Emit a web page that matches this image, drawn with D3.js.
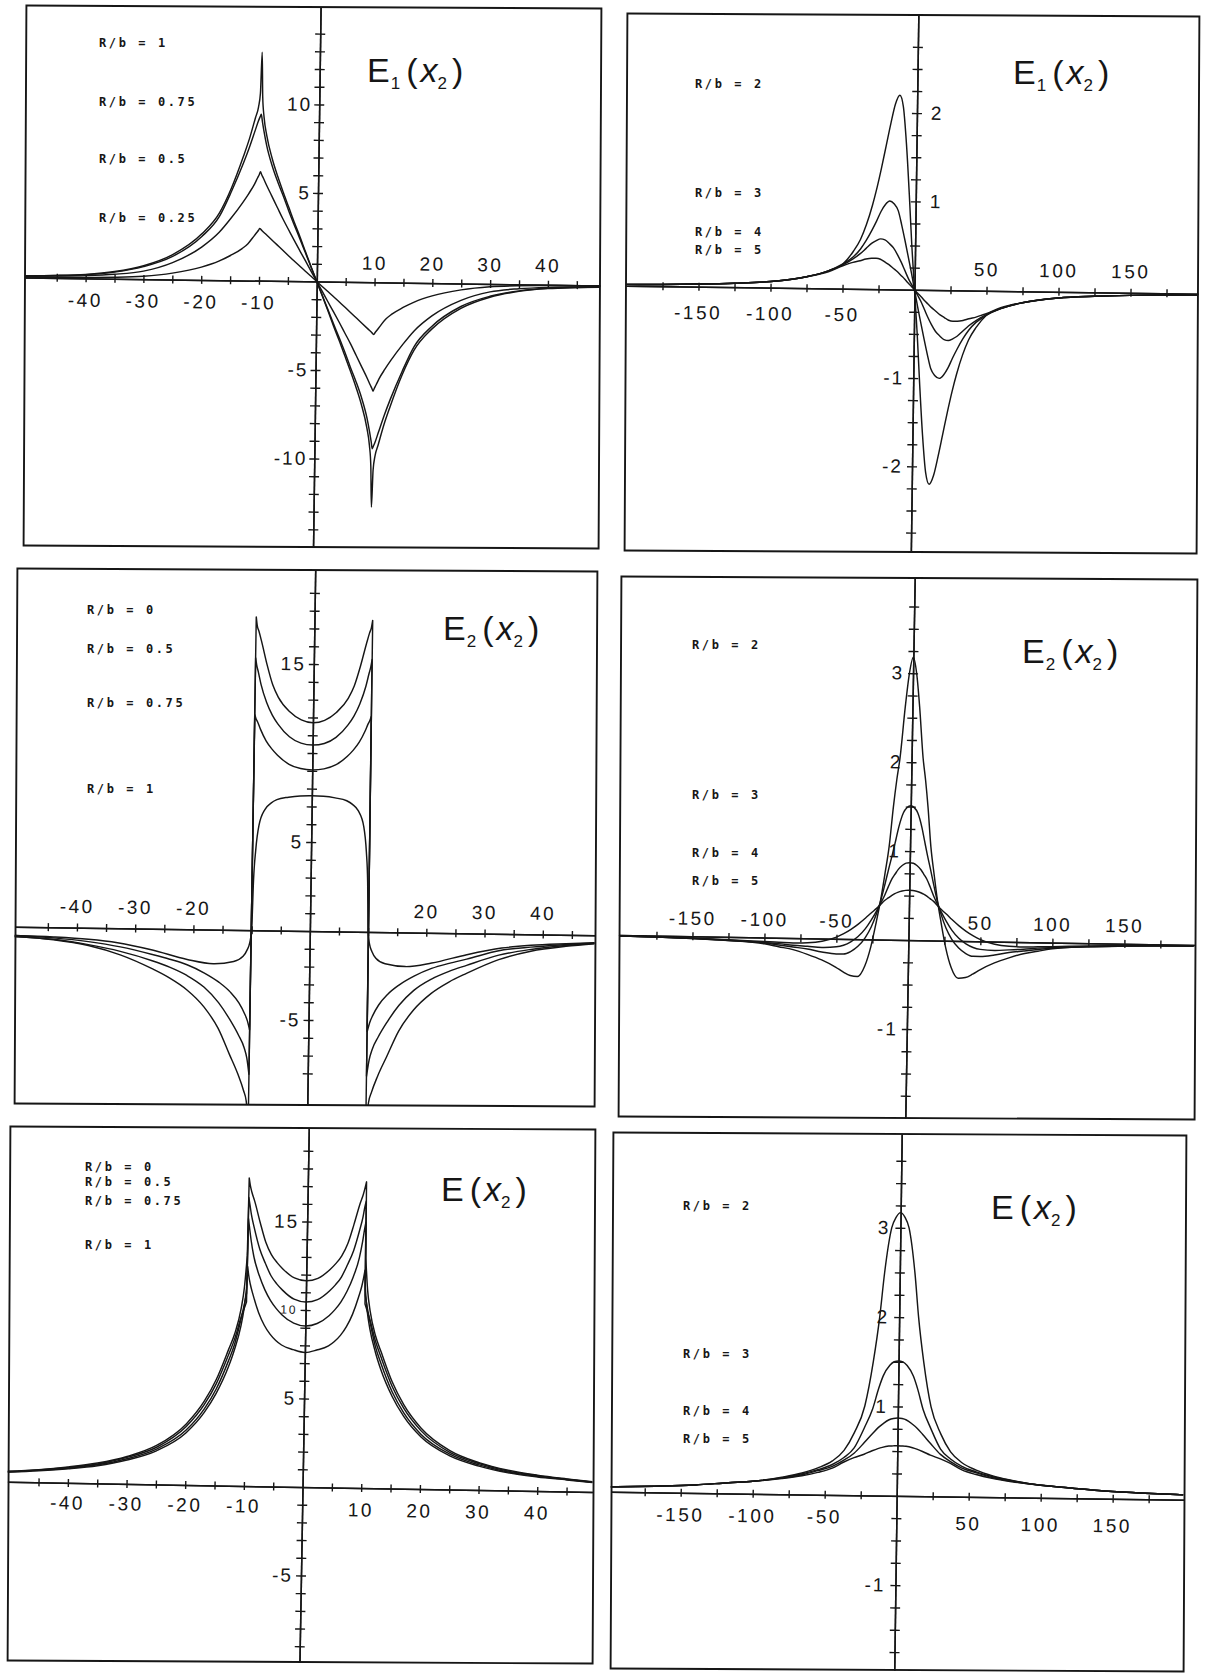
<!DOCTYPE html>
<html>
<head>
<meta charset="utf-8">
<script src="https://cdn.jsdelivr.net/npm/d3@7"></script>
<style>
  body { margin: 0; background: #fff; }
  svg { display: block; }
</style>
</head>
<body>
<svg id="chart" width="1209" height="1676"></svg>
<script>
// ---------------- E1(x2), R/b = 1, 0.75, 0.5, 0.25 ----------------
const e1SmallX = [-50.5,-45,-40,-35,-30,-25,-20,-17,-15,-13,-12,-11,-10.5,-10.2,-10,-9.8,-9.5,-9,-8,-7,-6,-5,-4,-3,-2,-1,0,
                  1,2,3,4,5,6,7,8,9,9.5,9.8,10,10.2,10.5,11,12,13,15,17,20,25,30,35,40,45,49];
const e1Small_1   = [0.1,0.14,0.22,0.4,0.75,1.4,2.6,3.8,5.2,7.0,8.0,9.2,9.8,10.6,12.9,10.4,9.2,8.2,6.9,5.9,5.0,4.15,3.3,2.5,1.65,0.82,0,
                     -0.82,-1.65,-2.5,-3.3,-4.15,-5.0,-5.9,-6.9,-8.2,-9.2,-10.4,-12.7,-10.6,-9.8,-9.2,-8.0,-7.0,-5.2,-3.8,-2.6,-1.4,-0.75,-0.4,-0.22,-0.14,-0.1];
const e1Small_075 = [0.09,0.13,0.2,0.37,0.7,1.3,2.45,3.6,5.0,6.6,7.5,8.5,9.0,9.25,9.4,9.0,8.45,7.65,6.5,5.6,4.8,3.95,3.15,2.38,1.58,0.79,0,
                     -0.79,-1.58,-2.38,-3.15,-3.95,-4.8,-5.6,-6.5,-7.65,-8.45,-9.0,-9.4,-9.25,-9.0,-8.5,-7.5,-6.6,-5.0,-3.6,-2.45,-1.3,-0.7,-0.37,-0.2,-0.13,-0.09];
const e1Small_05  = [0.07,0.1,0.15,0.25,0.45,0.95,1.85,2.7,3.5,4.4,4.9,5.45,5.8,6.0,6.15,6.0,5.8,5.45,4.8,4.15,3.5,2.9,2.3,1.72,1.15,0.57,0,
                     -0.57,-1.15,-1.72,-2.3,-2.9,-3.5,-4.15,-4.8,-5.45,-5.8,-6.0,-6.15,-6.0,-5.8,-5.45,-4.9,-4.4,-3.5,-2.7,-1.85,-0.95,-0.45,-0.25,-0.15,-0.1,-0.07];
const e1Small_025 = [0.02,0.03,0.05,0.08,0.16,0.36,0.72,1.07,1.4,1.8,2.08,2.5,2.72,2.85,2.95,2.9,2.8,2.65,2.35,2.05,1.75,1.45,1.15,0.86,0.57,0.29,0,
                     -0.29,-0.57,-0.86,-1.15,-1.45,-1.75,-2.05,-2.35,-2.65,-2.8,-2.9,-2.95,-2.85,-2.72,-2.5,-2.08,-1.8,-1.4,-1.07,-0.72,-0.36,-0.16,-0.08,-0.05,-0.03,-0.02];

// ---------------- E1(x2), R/b = 2, 3, 4, 5 ----------------
const e1LargeX = [-200,-175,-150,-125,-100,-75,-60,-50,-43,-38,-34,-30,-27,-24,-21,-18,-15,-12,-9.5,-7,-4.5,-2.3,0,
                  2.3,4.5,7,9.5,12,15,18,21,24,27,30,34,38,43,50,60,75,100,125,150,175,197];
const e1Large_2 = [0.015,0.02,0.03,0.045,0.07,0.13,0.2,0.28,0.42,0.56,0.73,0.95,1.15,1.38,1.63,1.88,2.1,2.2,2.07,1.65,1.07,0.5,0,
                   -0.5,-1.07,-1.65,-2.07,-2.2,-2.1,-1.88,-1.63,-1.38,-1.15,-0.95,-0.73,-0.56,-0.42,-0.28,-0.2,-0.13,-0.07,-0.045,-0.03,-0.02,-0.015];
const e1Large_3 = [0.015,0.02,0.03,0.045,0.07,0.13,0.2,0.28,0.36,0.45,0.55,0.67,0.77,0.88,0.96,1.0,0.97,0.89,0.73,0.55,0.36,0.19,0,
                   -0.19,-0.36,-0.55,-0.73,-0.89,-0.97,-1.0,-0.96,-0.88,-0.77,-0.67,-0.55,-0.45,-0.36,-0.28,-0.2,-0.13,-0.07,-0.045,-0.03,-0.02,-0.015];
const e1Large_4 = [0.015,0.02,0.03,0.045,0.07,0.13,0.2,0.27,0.34,0.4,0.46,0.52,0.55,0.57,0.56,0.52,0.47,0.39,0.31,0.22,0.13,0.065,0,
                   -0.065,-0.13,-0.22,-0.31,-0.39,-0.47,-0.52,-0.56,-0.57,-0.55,-0.52,-0.46,-0.4,-0.34,-0.27,-0.2,-0.13,-0.07,-0.045,-0.03,-0.02,-0.015];
const e1Large_5 = [0.015,0.02,0.03,0.045,0.07,0.13,0.19,0.26,0.3,0.32,0.34,0.35,0.35,0.34,0.31,0.28,0.24,0.2,0.16,0.12,0.075,0.04,0,
                   -0.04,-0.075,-0.12,-0.16,-0.2,-0.24,-0.28,-0.31,-0.34,-0.35,-0.35,-0.34,-0.32,-0.3,-0.26,-0.19,-0.13,-0.07,-0.045,-0.03,-0.02,-0.015];

// ---------------- E2(x2), R/b = 0, 0.5, 0.75, 1 ----------------
const e2OutLX = [-50.7,-44,-38,-32.5,-27,-24,-21,-18,-15.5,-13.5,-12,-11,-10.5,-10.1];
const e2OutL_0   = [-0.55,-0.7,-1.0,-1.5,-2.25,-2.75,-3.4,-4.35,-5.55,-7.0,-8.1,-9.0,-9.6,-11];
const e2OutL_05  = [-0.55,-0.68,-0.95,-1.3,-1.8,-2.15,-2.6,-3.25,-4.1,-5.05,-5.9,-6.6,-7.2,-8.1];
const e2OutL_075 = [-0.5,-0.6,-0.78,-1.05,-1.45,-1.7,-2.0,-2.45,-2.95,-3.5,-4.1,-4.7,-5.1,-5.6];
const e2InX = [-10,-9.8,-9.5,-9,-8,-7,-6,-4,-2,0,2,4,6,7,8,9,9.5,9.8,10];
const e2In_0   = [17.6,17.1,16.8,16.2,14.9,13.8,13.1,12.3,11.85,11.7,11.85,12.3,13.1,13.8,14.9,16.2,16.8,17.1,17.5];
const e2In_05  = [15.3,14.9,14.5,13.8,12.8,12.1,11.6,10.9,10.55,10.45,10.55,10.9,11.6,12.1,12.8,13.8,14.5,14.9,15.3];
const e2In_075 = [12.1,11.9,11.7,11.3,10.65,10.2,9.85,9.35,9.12,9.05,9.12,9.35,9.85,10.2,10.65,11.3,11.7,11.9,12.1];
const e2OutRX = [10.1,10.5,11,12,13.5,15.5,18,21,24,27,32.5,38,44,49];
const e2OutR_0   = [-11,-9.6,-9.0,-8.1,-7.0,-5.55,-4.35,-3.4,-2.75,-2.25,-1.45,-0.95,-0.65,-0.48];
const e2OutR_05  = [-8.1,-7.2,-6.6,-5.9,-5.05,-4.1,-3.25,-2.6,-2.15,-1.8,-1.2,-0.85,-0.6,-0.45];
const e2OutR_075 = [-5.6,-5.1,-4.7,-4.1,-3.5,-2.95,-2.45,-2.0,-1.7,-1.45,-0.95,-0.72,-0.55,-0.43];
const e2R1X = [-50.7,-44,-38,-33,-27,-21,-16.5,-13,-11.4,-10.7,-10.3,-10,-9.8,-9.5,-9,-8,-7,-6,-4,-2,0,
               2,4,6,7,8,9,9.5,9.8,10,10.3,10.7,11.4,13,16.5,21,27,33,38,44,49];
const e2R1 = [-0.5,-0.55,-0.65,-0.82,-1.2,-1.7,-1.92,-1.78,-1.48,-1.1,-0.72,0,2.8,4.5,5.9,6.8,7.15,7.35,7.5,7.58,7.6,
              7.58,7.5,7.35,7.15,6.8,5.9,4.5,2.8,0,-0.72,-1.1,-1.48,-1.78,-1.92,-1.7,-1.2,-0.8,-0.62,-0.5,-0.42];

// ---------------- E2(x2), R/b = 2, 3, 4, 5 ----------------
const e2LargeX = [-201,-175,-150,-125,-100,-90,-80,-70,-60,-50,-45,-40,-35,-30,-26,-22.5,-20,-17,-14.5,-12,-10,-8,-5,-2.5,0,
                  2.5,5,8,10,12,14.5,17,20,22.5,26,30,35,40,45,50,60,70,80,90,100,125,150,175,198];
const e2Large_2 = [-0.01,-0.015,-0.025,-0.04,-0.07,-0.1,-0.13,-0.18,-0.24,-0.32,-0.37,-0.41,-0.42,-0.3,-0.08,0.2,0.42,0.75,1.05,1.5,1.8,2.05,2.62,3.0,3.18,
                   3.0,2.62,2.05,1.8,1.5,1.05,0.75,0.42,0.2,-0.08,-0.3,-0.42,-0.41,-0.37,-0.32,-0.24,-0.18,-0.13,-0.1,-0.07,-0.04,-0.025,-0.015,-0.01];
const e2Large_3 = [-0.01,-0.015,-0.025,-0.04,-0.06,-0.08,-0.1,-0.12,-0.15,-0.17,-0.17,-0.14,-0.08,0.02,0.14,0.29,0.42,0.62,0.8,0.97,1.12,1.27,1.43,1.49,1.51,
                   1.49,1.43,1.27,1.12,0.97,0.8,0.62,0.42,0.29,0.14,0.02,-0.08,-0.14,-0.17,-0.17,-0.15,-0.12,-0.1,-0.08,-0.06,-0.04,-0.025,-0.015,-0.01];
const e2Large_4 = [-0.01,-0.014,-0.022,-0.035,-0.055,-0.065,-0.08,-0.09,-0.1,-0.09,-0.07,-0.03,0.03,0.12,0.22,0.32,0.4,0.5,0.6,0.69,0.74,0.79,0.84,0.865,0.87,
                   0.865,0.84,0.79,0.74,0.69,0.6,0.5,0.4,0.32,0.22,0.12,0.03,-0.03,-0.07,-0.09,-0.1,-0.09,-0.08,-0.065,-0.055,-0.035,-0.022,-0.014,-0.01];
const e2Large_5 = [-0.01,-0.013,-0.02,-0.03,-0.045,-0.05,-0.055,-0.05,-0.03,0.02,0.06,0.11,0.17,0.24,0.3,0.35,0.39,0.44,0.47,0.5,0.52,0.535,0.55,0.558,0.56,
                   0.558,0.55,0.535,0.52,0.5,0.47,0.44,0.39,0.35,0.3,0.24,0.17,0.11,0.06,0.02,-0.03,-0.05,-0.055,-0.05,-0.045,-0.03,-0.02,-0.013,-0.01];

// ---------------- E(x2), R/b = 0, 0.5, 0.75, 1 ----------------
const eOutLX = [-50.3,-45,-40,-35,-30,-25,-20,-17,-15,-13,-12,-11,-10.5,-10.1];
const eOutL_0   = [0.6,0.72,0.9,1.15,1.55,2.2,3.45,4.75,6.0,7.7,8.6,10.0,11.2,13.0];
const eOutL_05  = [0.58,0.7,0.87,1.1,1.5,2.1,3.3,4.55,5.75,7.4,8.3,9.5,10.0,10.4];
const eOutL_075 = [0.56,0.68,0.83,1.05,1.42,2.0,3.1,4.3,5.45,7.05,8.0,9.4,10.2,10.9];
const eOutL_1   = [0.55,0.66,0.8,1.0,1.35,1.9,2.95,4.1,5.2,6.7,7.7,9.0,10.0,11.3];
const eInX = [-10,-9.8,-9.5,-9,-8,-7,-6,-5,-4,-2,0,2,4,5,6,7,8,9,9.5,9.8,10];
const eIn_0   = [17.4,17.0,16.6,16.1,14.9,13.8,13.1,12.65,12.3,11.8,11.65,11.8,12.3,12.65,13.1,13.8,14.9,16.1,16.6,17.0,17.3];
const eIn_05  = [16.3,15.9,15.3,14.6,13.4,12.6,11.9,11.45,11.1,10.6,10.45,10.6,11.1,11.45,11.9,12.6,13.4,14.6,15.3,15.9,16.2];
const eIn_075 = [15.1,14.6,13.9,13.0,11.9,11.1,10.5,10.05,9.7,9.25,9.1,9.25,9.7,10.05,10.5,11.1,11.9,13.0,13.9,14.6,15.0];
const eIn_1   = [12.4,11.9,11.4,10.8,9.8,9.1,8.6,8.25,8.0,7.75,7.6,7.75,8.0,8.25,8.6,9.1,9.8,10.8,11.4,11.9,12.3];
const eOutRX = [10.1,10.5,11,12,13,15,17,20,25,30,35,40,45,49.4];
const eOutR_0   = [13.0,11.2,10.0,8.6,7.7,6.0,4.75,3.45,2.2,1.55,1.15,0.9,0.72,0.58];
const eOutR_05  = [10.4,10.0,9.5,8.3,7.4,5.75,4.55,3.3,2.1,1.5,1.1,0.87,0.7,0.56];
const eOutR_075 = [10.9,10.2,9.4,8.0,7.05,5.45,4.3,3.1,2.0,1.42,1.05,0.83,0.68,0.55];
const eOutR_1   = [11.3,10.0,9.0,7.7,6.7,5.2,4.1,2.95,1.9,1.35,1.0,0.8,0.66,0.53];

// ---------------- E(x2), R/b = 2, 3, 4, 5 ----------------
const eLargeX = [-199,-168,-140,-117,-100,-80,-66,-55,-45,-37,-30,-23,-17.5,-13.5,-10.5,-6,-3,0,
                 3,6,10.5,13.5,17.5,23,30,37,45,55,66,80,100,117,140,168,199];
const eLarge_2 = [0.055,0.07,0.09,0.12,0.14,0.19,0.24,0.3,0.38,0.5,0.7,1.0,1.5,2.0,2.5,3.0,3.12,3.17,
                  3.12,3.0,2.5,2.0,1.5,1.0,0.7,0.5,0.38,0.3,0.24,0.19,0.14,0.12,0.09,0.07,0.055];
const eLarge_3 = [0.055,0.07,0.09,0.12,0.14,0.185,0.23,0.28,0.34,0.42,0.53,0.76,0.97,1.2,1.34,1.46,1.5,1.51,
                  1.5,1.46,1.34,1.2,0.97,0.76,0.53,0.42,0.34,0.28,0.23,0.185,0.14,0.12,0.09,0.07,0.055];
const eLarge_4 = [0.055,0.07,0.09,0.12,0.14,0.18,0.22,0.27,0.32,0.39,0.47,0.59,0.69,0.76,0.8,0.85,0.865,0.87,
                  0.865,0.85,0.8,0.76,0.69,0.59,0.47,0.39,0.32,0.27,0.22,0.18,0.14,0.12,0.09,0.07,0.055];
const eLarge_5 = [0.055,0.07,0.09,0.12,0.14,0.175,0.21,0.25,0.3,0.37,0.42,0.46,0.5,0.525,0.54,0.555,0.558,0.56,
                  0.558,0.555,0.54,0.525,0.5,0.46,0.42,0.37,0.3,0.25,0.21,0.175,0.14,0.12,0.09,0.07,0.055];

// ---------------- tick label values ----------------
const smallXLabelsNeg = [-40, -30, -20, -10];
const smallXLabelsPos = [10, 20, 30, 40];
const largeXLabelsNeg = [-150, -100, -50];
const largeXLabelsPos = [50, 100, 150];
const e1SmallYLabels = [10, 5, -5, -10];
const e1LargeYLabelsPos = [2, 1];
const e1LargeYLabelsNeg = [-1, -2];
const e2SmallYLabels = [15, 5, -5];
const largeYLabels = [3, 2, 1, -1];
const eSmallYLabels = [15, 10, 5, -5];

// ---------------- legend text ----------------
const legendSmallE1 = ["R/b = 1", "R/b = 0.75", "R/b = 0.5", "R/b = 0.25"];
const legendSmallE2 = ["R/b = 0", "R/b = 0.5", "R/b = 0.75", "R/b = 1"];
const legendLarge   = ["R/b = 2", "R/b = 3", "R/b = 4", "R/b = 5"];

// ---------------- drawing ----------------
const svg = d3.select("#chart");
svg.append("rect").attr("width", 1209).attr("height", 1676).attr("fill", "#fff");

const INK = "#161616";
const HAND = "'Liberation Sans', Arial, sans-serif";
const FRAME_TILT = 0.3;
const zip = (xs, ys) => xs.map((x, i) => [x, ys[i]]);
const steps = (a, b, s) => d3.range(Math.round(a / s), Math.round(b / s) + 1).map(k => +(k * s).toFixed(4)).filter(v => v !== 0);

const panels = [
  { id: "tl", box: [25, 7, 600, 547], xd: [-50.5, 49], yd: [-15.0, 15.5], rot: 0.8,
    xt: steps(-45, 45, 5), yt: steps(-14, 14, 1), ytick: 5, xtick: 4,
    xLab: [[smallXLabelsNeg, 22], [smallXLabelsPos, -19]],
    yLab: [[e1SmallYLabels, -7, "end"]],
    series: [[zip(e1SmallX, e1Small_1)], [zip(e1SmallX, e1Small_075)], [zip(e1SmallX, e1Small_05)], [zip(e1SmallX, e1Small_025)]],
    title: { x: 367, y: 82, sub: "1" },
    legend: { x: 99, ys: [47, 106, 163, 222], text: legendSmallE1 } },
  { id: "tr", box: [626, 15, 1198, 552], xd: [-200.4, 196.8], yd: [-2.97, 3.11], rot: 0.8,
    xt: steps(-175, 175, 25), yt: steps(-2.75, 2.75, 0.25), ytick: 5, xtick: 4,
    xLab: [[largeXLabelsNeg, 26], [largeXLabelsPos, -21]],
    yLab: [[e1LargeYLabelsPos, 14, "start"], [e1LargeYLabelsNeg, -9, "end"]],
    series: [[zip(e1LargeX, e1Large_2)], [zip(e1LargeX, e1Large_3)], [zip(e1LargeX, e1Large_4)], [zip(e1LargeX, e1Large_5)]],
    title: { x: 1013, y: 84, sub: "1" },
    legend: { x: 695, ys: [88, 197, 236, 254], text: legendLarge } },
  { id: "ml", box: [16, 570, 596, 1105], xd: [-50.7, 48.9], yd: [-9.78, 20.28], rot: 0.85,
    xt: steps(-45, 45, 5), yt: steps(-8, 19, 1), ytick: 5, xtick: 4,
    xLab: [[[-40, -30, -20], -21], [[20, 30, 40], -21]],
    yLab: [[e2SmallYLabels, -8, "end"]],
    series: [
      [zip(e2OutLX, e2OutL_0), zip(e2InX, e2In_0), zip(e2OutRX, e2OutR_0)],
      [zip(e2OutLX, e2OutL_05), zip(e2InX, e2In_05), zip(e2OutRX, e2OutR_05)],
      [zip(e2OutLX, e2OutL_075), zip(e2InX, e2In_075), zip(e2OutRX, e2OutR_075)],
      [zip(e2R1X, e2R1)]],
    title: { x: 443, y: 640, sub: "2" },
    legend: { x: 87, ys: [614, 653, 707, 793], text: legendSmallE2 } },
  { id: "mr", box: [620, 578, 1196, 1118], xd: [-201.4, 198.6], yd: [-2.0, 4.07], rot: 1.0,
    xt: steps(-175, 175, 25), yt: steps(-1.75, 3.75, 0.25), ytick: 5, xtick: 4,
    xLab: [[largeXLabelsNeg, -18], [largeXLabelsPos, -18]],
    yLab: [[largeYLabels, -9, "end"]],
    series: [[zip(e2LargeX, e2Large_2)], [zip(e2LargeX, e2Large_3)], [zip(e2LargeX, e2Large_4)], [zip(e2LargeX, e2Large_5)]],
    title: { x: 1022, y: 663, sub: "2" },
    legend: { x: 692, ys: [649, 799, 857, 885], text: legendLarge } },
  { id: "bl", box: [9, 1128, 594, 1662], xd: [-50.3, 49.4], yd: [-9.89, 20.28], rot: 1.0,
    xt: steps(-45, 45, 5), yt: steps(-9, 19, 1), ytick: 5, xtick: 4,
    xLab: [[smallXLabelsNeg, 20], [smallXLabelsPos, 22]],
    yLab: [[eSmallYLabels, -8, "end"]],
    series: [
      [zip(eOutLX, eOutL_0), zip(eInX, eIn_0), zip(eOutRX, eOutR_0)],
      [zip(eOutLX, eOutL_05), zip(eInX, eIn_05), zip(eOutRX, eOutR_05)],
      [zip(eOutLX, eOutL_075), zip(eInX, eIn_075), zip(eOutRX, eOutR_075)],
      [zip(eOutLX, eOutL_1), zip(eInX, eIn_1), zip(eOutRX, eOutR_1)]],
    title: { x: 441, y: 1201, sub: null },
    legend: { x: 85, ys: [1171, 1186, 1205, 1249], text: legendSmallE2 } },
  { id: "br", box: [612, 1134, 1185, 1670], xd: [-198.6, 199.3], yd: [-1.95, 4.05], rot: 0.8,
    xt: steps(-175, 175, 25), yt: steps(-1.75, 3.75, 0.25), ytick: 5, xtick: 4,
    xLab: [[largeXLabelsNeg, 22], [largeXLabelsPos, 27]],
    yLab: [[largeYLabels, -10, "end"]],
    series: [[zip(eLargeX, eLarge_2)], [zip(eLargeX, eLarge_3)], [zip(eLargeX, eLarge_4)], [zip(eLargeX, eLarge_5)]],
    title: { x: 991, y: 1219, sub: null },
    legend: { x: 683, ys: [1210, 1358, 1415, 1443], text: legendLarge } }
];

const fmt = v => String(v);

panels.forEach(p => {
  const [x0, y0, x1, y1] = p.box;
  const cx = (x0 + x1) / 2, cy = (y0 + y1) / 2;
  const xs = d3.scaleLinear().domain(p.xd).range([x0, x1]);
  const ys = d3.scaleLinear().domain(p.yd).range([y1, y0]);

  // frame (nearly square to the page)
  svg.append("rect").attr("x", x0).attr("y", y0).attr("width", x1 - x0).attr("height", y1 - y0)
    .attr("transform", `rotate(${FRAME_TILT},${cx},${cy})`)
    .attr("fill", "none").attr("stroke", INK).attr("stroke-width", 1.9);

  // plot content, slightly skewed as on the plotter sheet
  const g = svg.append("g").attr("transform", `rotate(${p.rot},${cx},${cy})`);
  const clipId = "clip-" + p.id;
  g.append("clipPath").attr("id", clipId)
    .append("rect").attr("x", x0).attr("y", y0).attr("width", x1 - x0).attr("height", y1 - y0);

  // crossing axes with "+" ticks (one axis drawn on each side of the line)
  const oy = ys(0), ox = xs(0);
  const axes = [
    [d3.axisBottom(xs), `translate(0,${oy})`, p.xtick],
    [d3.axisTop(xs), `translate(0,${oy})`, p.xtick],
    [d3.axisLeft(ys), `translate(${ox},0)`, p.ytick],
    [d3.axisRight(ys), `translate(${ox},0)`, p.ytick]
  ];
  axes.forEach(([ax, tr, size], i) => {
    const vals = i < 2 ? p.xt : p.yt;
    const a = g.append("g").attr("transform", tr)
      .call(ax.tickValues(vals).tickSize(size).tickSizeOuter(0).tickFormat(""));
    a.select(".domain").attr("stroke", INK).attr("stroke-width", 1.5);
    a.selectAll(".tick line").attr("stroke", INK).attr("stroke-width", 1.4);
  });

  // curves
  const line = d3.line().x(d => xs(d[0])).y(d => ys(d[1])).curve(d3.curveMonotoneX);
  const curves = g.append("g").attr("clip-path", `url(#${clipId})`);
  p.series.forEach(segs => {
    const d = segs.map((s, i) => { const str = line(s); return i ? "L" + str.slice(1) : str; }).join("");
    curves.append("path").attr("d", d).attr("fill", "none")
      .attr("stroke", INK).attr("stroke-width", 1.45).attr("stroke-linejoin", "round");
  });

  // tick labels
  p.xLab.forEach(([vals, off]) => {
    g.selectAll(null).data(vals).enter().append("text")
      .attr("x", v => xs(v)).attr("y", oy + off)
      .attr("text-anchor", "middle").attr("dominant-baseline", "central")
      .attr("font-family", HAND).attr("font-size", 19).attr("letter-spacing", 2.5)
      .attr("fill", INK).text(fmt);
  });
  p.yLab.forEach(([vals, off, anchor]) => {
    g.selectAll(null).data(vals).enter().append("text")
      .attr("x", ox + off).attr("y", v => ys(v))
      .attr("text-anchor", anchor).attr("dominant-baseline", "central")
      .attr("font-family", HAND)
      .attr("font-size", v => (p.id === "bl" && v === 10) ? 12 : 19)
      .attr("letter-spacing", 2)
      .attr("fill", INK).text(fmt);
  });

  // title
  const t = svg.append("text").attr("x", p.title.x).attr("y", p.title.y)
    .attr("font-family", HAND).attr("font-size", 34).attr("fill", INK);
  t.append("tspan").text("E");
  if (p.title.sub) t.append("tspan").attr("font-size", 17).attr("dy", 7).attr("dx", 1).text(p.title.sub);
  t.append("tspan").attr("font-size", 34).attr("dy", p.title.sub ? -7 : 0).attr("dx", 6).text("(");
  t.append("tspan").attr("font-style", "italic").attr("dx", 3).text("x");
  t.append("tspan").attr("font-size", 17).attr("dy", 7).text("2");
  t.append("tspan").attr("font-size", 34).attr("dy", -7).attr("dx", 5).text(")");

  // series captions
  svg.selectAll(null).data(p.legend.text).enter().append("text")
    .attr("x", p.legend.x).attr("y", (d, i) => p.legend.ys[i])
    .attr("font-family", "'DejaVu Sans Mono', monospace").attr("font-weight", "bold")
    .attr("font-size", 12).attr("letter-spacing", 2.6).attr("fill", INK)
    .text(d => d);
});
</script>
</body>
</html>
